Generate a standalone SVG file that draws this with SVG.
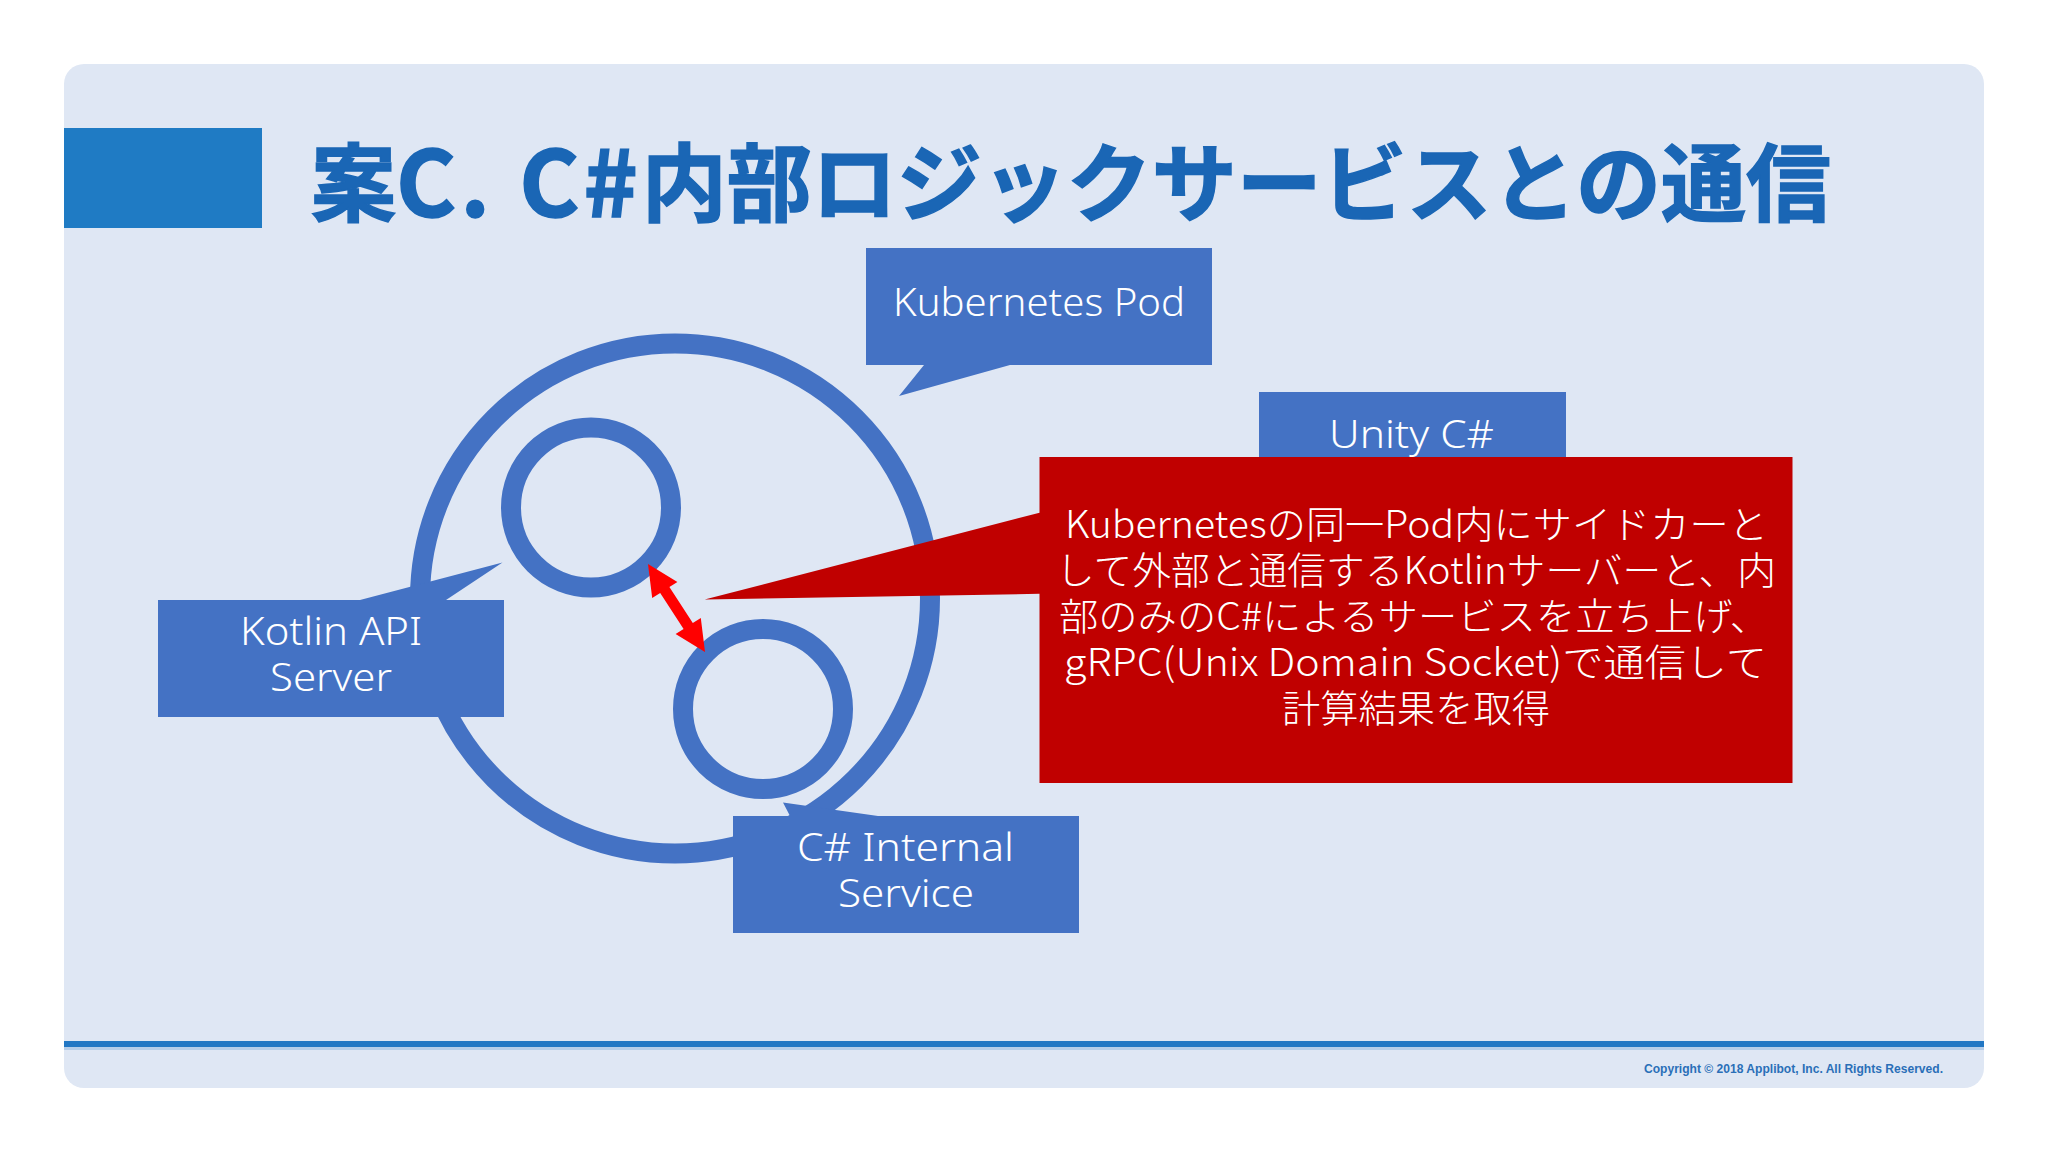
<svg xmlns="http://www.w3.org/2000/svg" width="2048" height="1152" viewBox="0 0 2048 1152">
<style>
.ring{fill:none;stroke:#4472c4;stroke-width:20}
.box{fill:#4472c4}
.t{font-family:"Noto Sans","Noto Sans CJK JP",sans-serif;fill:#fff;font-size:38px;font-weight:300}
.j{font-family:"Noto Sans CJK JP","Noto Sans",sans-serif;fill:#fff;font-size:38px;font-weight:300}
</style>
<rect width="2048" height="1152" fill="#fff"/>
<rect id="panel" x="64" y="64" width="1920" height="1024" rx="20" fill="#dfe7f4"/>
<rect id="title-bar" x="64" y="128" width="198" height="100" fill="#1f7bc4"/>
<text id="title" x="311" y="215" font-family="'Noto Sans CJK JP','Noto Sans',sans-serif" font-weight="700" font-size="85" fill="#1a66b5" stroke="#1a66b5" stroke-width="1.5">案<tspan font-size="92" letter-spacing="4" dy="2">C. C#</tspan><tspan dy="-2">内部ロジックサービスとの通信</tspan></text>
<rect id="rule-shadow" x="64" y="1047" width="1920" height="3" fill="#b5cde9"/>
<rect id="rule" x="64" y="1041" width="1920" height="6" fill="#2277c4"/>
<text id="copyright" x="1644" y="1073" font-family="'Liberation Sans',sans-serif" font-weight="700" font-size="13" fill="#2a6fb8" textLength="299" lengthAdjust="spacingAndGlyphs">Copyright © 2018 Applibot, Inc. All Rights Reserved.</text>

<g id="pod-circle"><circle class="ring" cx="675" cy="598.5" r="255"/></g>
<g id="kotlin-circle"><circle class="ring" cx="591" cy="507.5" r="80"/></g>
<g id="csharp-circle"><circle class="ring" cx="763" cy="709" r="80"/></g>

<g id="connectors">
<polygon fill="#ff0000" points="648,564 677.4,581.9 669.4,587 692.8,623 700.8,617.9 705,652 675.6,634.1 683.6,629 660.2,593 652.2,598.1"/>
</g>

<g id="kubernetes-pod">
<path class="box" d="M866 248H1212V365H1010L899 396L924 365H866Z"/>
<text class="t" x="893" y="316" textLength="292" lengthAdjust="spacingAndGlyphs">Kubernetes Pod</text>
</g>
<g id="kotlin-api-server">
<path class="box" d="M158 600H360L502.500 562.500L446 600H504V717H158Z"/>
<text class="t" x="240" y="645" textLength="182" lengthAdjust="spacingAndGlyphs">Kotlin API</text>
<text class="t" x="270" y="691" textLength="122" lengthAdjust="spacingAndGlyphs">Server</text>
</g>
<g id="csharp-internal-service">
<path class="box" d="M733 816H790L783 802.500L878 816H1079V933H733Z"/>
<text class="t" x="797" y="861" textLength="217" lengthAdjust="spacingAndGlyphs">C# Internal</text>
<text class="t" x="838" y="907" textLength="136" lengthAdjust="spacingAndGlyphs">Service</text>
</g>
<g id="unity-csharp">
<rect class="box" x="1259" y="392" width="307" height="116"/>
<text class="t" x="1329" y="448" textLength="165" lengthAdjust="spacingAndGlyphs">Unity C#</text>
</g>
<g id="note">
<path fill="#c00000" d="M1039.500 457H1792.500V783H1039.500V593.800L704.600 599.600L1039.500 512.700Z"/>
<text class="j" x="1065" y="538" textLength="703" lengthAdjust="spacingAndGlyphs">Kubernetesの同一Pod内にサイドカーと</text>
<text class="j" x="1056" y="584" textLength="720" lengthAdjust="spacingAndGlyphs">して外部と通信するKotlinサーバーと、内</text>
<text class="j" x="1059" y="630" textLength="710" lengthAdjust="spacingAndGlyphs">部のみのC#によるサービスを立ち上げ、</text>
<text class="j" x="1064" y="676" textLength="703" lengthAdjust="spacingAndGlyphs">gRPC(Unix Domain Socket)で通信して</text>
<text class="j" x="1282" y="722" textLength="268" lengthAdjust="spacingAndGlyphs">計算結果を取得</text>
</g>
</svg>
